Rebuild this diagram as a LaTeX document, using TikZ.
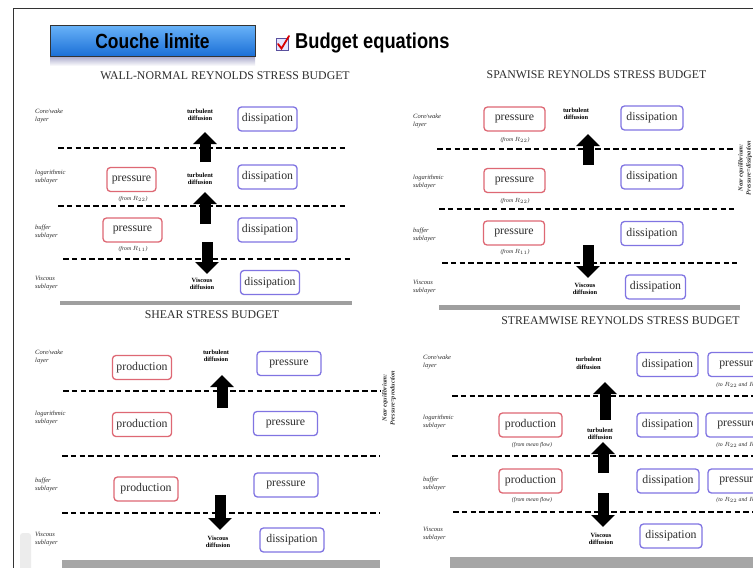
\documentclass[tikz,border=0pt]{standalone}
\usepackage{fontspec}
\setmainfont{Liberation Serif}
\newfontfamily\headsans[FakeStretch=0.85]{Liberation Sans}
\usetikzlibrary{arrows.meta}

\definecolor{srcred}{RGB}{222,104,116}
\definecolor{srcblue}{RGB}{128,116,226}
\definecolor{btntop}{RGB}{104,178,248}
\definecolor{btnbot}{RGB}{26,110,214}
\definecolor{inkgray}{RGB}{45,45,45}

\tikzset{
  budgetbox/.style={draw, rounded corners=3.5pt, line width=1.3pt, fill=white, text=inkgray,
    minimum width=59pt, minimum height=24pt, inner xsep=4pt, inner ysep=0pt,
    font=\fontsize{11.8}{12}\selectfont},
  gainbox/.style={budgetbox, draw=srcred},
  lossbox/.style={budgetbox, draw=srcblue},
  layerlabel/.style={anchor=west, align=left, inner sep=0pt, text=inkgray,
    font=\fontsize{6.5}{7.5}\selectfont\itshape},
  fluxlabel/.style={align=center, inner sep=0pt, font=\fontsize{6.4}{7.5}\selectfont\bfseries},
  sourcenote/.style={inner sep=0pt, text=inkgray, font=\fontsize{5.8}{6}\selectfont\itshape},
  paneltitle/.style={inner sep=0pt, text=inkgray, font=\fontsize{11.8}{12}\selectfont},
  layerline/.style={line width=2pt, dash pattern=on 5.5pt off 3.3pt},
  blockarrow/.style={line width=11pt, -{Triangle[width=23pt,length=12pt]}},
  neartext/.style={rotate=90, align=center, inner sep=0pt, text=inkgray,
    font=\fontsize{6.3}{8}\selectfont\bfseries\itshape},
}

\begin{document}
\begin{tikzpicture}[x=1pt, y=-1pt]
    \useasboundingbox (0,0) rectangle (753,568);
    \clip (0,0) rectangle (753,568);
    \fill[white] (0,0) rectangle (753,568);
    \draw[line width=0.9pt, black!80] (13,570) -- (13,8) -- (755,8);% slide frame

    % header
    \shade[top color=blue!25!gray!50, bottom color=white] (50,57) rectangle (255,66);
    \node[draw=black!80, line width=0.8pt, top color=btntop, bottom color=btnbot,
          minimum width=205pt, minimum height=31pt, inner sep=0pt,
          font=\headsans\bfseries\fontsize{20.5}{22}\selectfont] (CoucheBtn) at (152.5,41) {Couche limite};
    \node[draw=srcblue!70!black, fill=blue!10, line width=1pt, minimum size=12pt, inner sep=0pt] (CheckBox) at (282,44) {};
    \draw[red!85!black, line width=1.8pt, line cap=round] (278,44) -- (281.5,48.5) -- (289,36);% check mark
    \node[anchor=west, inner sep=0pt, font=\headsans\bfseries\fontsize{21.5}{24}\selectfont] (BudgetTitle) at (295,43) {Budget equations};

    % layer boundaries
    \foreach \ya/\xa/\xb in {148/58/347, 206/58/347, 259/63/350,
                             391/63/380, 456/62/380, 513/62/380,
                             149/437/733, 209/439/734, 263/442/737,
                             396/452/755, 456/452/755, 512/453/755}{
      \draw[layerline] (\xa,\ya) -- (\xb,\ya);
    }
    \draw[line width=4pt, gray!75] (60,303) -- (352,303);
    \draw[line width=5pt, gray!75] (439,307) -- (740,307);
    \fill[gray!70] (62,560) rectangle (380,570);
    \fill[gray!70] (450,557) rectangle (755,570);
    \fill[gray!15, rounded corners=3pt] (20,533) rectangle (31,572);

    %%% wall-normal budget
    \node[paneltitle] (TitleWN) at (225,76) {WALL-NORMAL REYNOLDS STRESS BUDGET};
    \node[layerlabel] (CoreWN) at (35,116) {Core/wake\\layer};
    \node[layerlabel] (LogWN)  at (35,177) {logarithmic\\sublayer};
    \node[layerlabel] (BufWN)  at (35,232) {buffer\\sublayer};
    \node[layerlabel] (VisWN)  at (35,283) {Viscous\\sublayer};
    \coordinate (WNupAbot) at (205,162);
    \coordinate (WNupAtop) at (205,132);
    \coordinate (WNupBbot) at (205,224);
    \coordinate (WNupBtop) at (205,192);
    \coordinate (WNdnTop)  at (207,242);
    \coordinate (WNdnBot)  at (207,274);
    \draw[blockarrow] (WNupAbot) -- (WNupAtop);
    \draw[blockarrow] (WNupBbot) -- (WNupBtop);
    \draw[blockarrow] (WNdnTop) -- (WNdnBot);
    \node[fluxlabel] (TurbWNa) at (200,115) {turbulent\\diffusion};
    \node[lossbox] (DissWNa) at (267.5,119) {dissipation};
    \node[gainbox, minimum width=49pt] (PresWNb) at (131.5,179.5) {pressure};
    \node[sourcenote] (FromWNb) at (133,199) {(from $R_{22}$)};
    \node[fluxlabel] (TurbWNb) at (200,179) {turbulent\\diffusion};
    \node[lossbox] (DissWNb) at (267.5,177) {dissipation};
    \node[gainbox] (PresWNc) at (132.5,230) {pressure};
    \node[sourcenote] (FromWNc) at (133,249) {(from $R_{11}$)};
    \node[lossbox] (DissWNc) at (267.5,230) {dissipation};
    \node[fluxlabel] (ViscWN) at (202,284) {Viscous\\diffusion};
    \node[lossbox] (DissWNd) at (270,282.5) {dissipation};

    %%% shear stress budget
    \node[paneltitle] (TitleSH) at (212,315) {SHEAR STRESS BUDGET};
    \node[layerlabel] (CoreSH) at (35,357) {Core/wake\\layer};
    \node[layerlabel] (LogSH)  at (35,418) {logarithmic\\sublayer};
    \node[layerlabel] (BufSH)  at (35,485) {buffer\\sublayer};
    \node[layerlabel] (VisSH)  at (35,539) {Viscous\\sublayer};
    \coordinate (SHupBot) at (222,408);
    \coordinate (SHupTop) at (222,375);
    \coordinate (SHdnTop) at (220,495);
    \coordinate (SHdnBot) at (220,530);
    \draw[blockarrow] (SHupBot) -- (SHupTop);
    \draw[blockarrow] (SHdnTop) -- (SHdnBot);
    \node[gainbox, minimum width=54pt] (ProdSHa) at (142,367.5) {production};
    \node[fluxlabel] (TurbSH) at (216,356) {turbulent\\diffusion};
    \node[lossbox, minimum width=64pt] (PresSHa) at (289,363.5) {pressure};
    \node[gainbox, minimum width=54pt] (ProdSHb) at (142,424.5) {production};
    \node[lossbox, minimum width=64pt] (PresSHb) at (285.5,423.5) {pressure};
    \node[gainbox, minimum width=64pt] (ProdSHc) at (146,489) {production};
    \node[lossbox, minimum width=64pt] (PresSHc) at (286,485) {pressure};
    \node[fluxlabel] (ViscSH) at (218,542) {Viscous\\diffusion};
    \node[lossbox, minimum width=64pt] (DissSHd) at (292,540) {dissipation};
    \node[neartext] (NearSH) at (389,398) {Near equilibrium:\\Pressure=production};

    %%% spanwise budget
    \node[paneltitle] (TitleSP) at (596.5,75) {SPANWISE REYNOLDS STRESS BUDGET};
    \node[layerlabel] (CoreSP) at (413,121) {Core/wake\\layer};
    \node[layerlabel] (LogSP)  at (413,182) {logarithmic\\sublayer};
    \node[layerlabel] (BufSP)  at (413,235) {buffer\\sublayer};
    \node[layerlabel] (VisSP)  at (413,287) {Viscous\\sublayer};
    \coordinate (SPupBot) at (588,165);
    \coordinate (SPupTop) at (588,134);
    \coordinate (SPdnTop) at (588,245);
    \coordinate (SPdnBot) at (588,278);
    \draw[blockarrow] (SPupBot) -- (SPupTop);
    \draw[blockarrow] (SPdnTop) -- (SPdnBot);
    \node[gainbox, minimum width=61pt] (PresSPa) at (514.5,119) {pressure};
    \node[sourcenote] (FromSPa) at (515,140) {(from $R_{22}$)};
    \node[fluxlabel] (TurbSP) at (576,114) {turbulent\\diffusion};
    \node[lossbox, minimum width=62pt] (DissSPa) at (652,118) {dissipation};
    \node[gainbox, minimum width=61pt] (PresSPb) at (514.5,180.5) {pressure};
    \node[sourcenote] (FromSPb) at (515,201) {(from $R_{22}$)};
    \node[lossbox, minimum width=62pt] (DissSPb) at (652,177) {dissipation};
    \node[gainbox, minimum width=61pt] (PresSPc) at (514,233) {pressure};
    \node[sourcenote] (FromSPc) at (515,252) {(from $R_{11}$)};
    \node[lossbox, minimum width=62pt] (DissSPc) at (652,233.5) {dissipation};
    \node[fluxlabel] (ViscSP) at (585,289) {Viscous\\diffusion};
    \node[lossbox, minimum width=60pt] (DissSPd) at (655.5,287) {dissipation};
    \node[neartext] (NearSP) at (745,168) {Near equilibrium:\\Pressure=dissipation};

    %%% streamwise budget
    \node[paneltitle] (TitleST) at (620.5,321) {STREAMWISE REYNOLDS STRESS BUDGET};
    \node[layerlabel] (CoreST) at (423,362) {Core/wake\\layer};
    \node[layerlabel] (LogST)  at (423,422) {logarithmic\\sublayer};
    \node[layerlabel] (BufST)  at (423,484) {buffer\\sublayer};
    \node[layerlabel] (VisST)  at (423,534) {Viscous\\sublayer};
    \coordinate (STupAbot) at (605,420);
    \coordinate (STupAtop) at (605,382);
    \coordinate (STupBbot) at (603,473);
    \coordinate (STupBtop) at (603,442);
    \coordinate (STdnTop)  at (603,493);
    \coordinate (STdnBot)  at (603,527);
    \draw[blockarrow] (STupAbot) -- (STupAtop);
    \draw[blockarrow] (STupBbot) -- (STupBtop);
    \draw[blockarrow] (STdnTop) -- (STdnBot);
    \node[fluxlabel] (TurbSTa) at (588.5,363.5) {turbulent\\diffusion};
    \node[lossbox, minimum width=61pt] (DissSTa) at (667.5,364.5) {dissipation};
    \node[lossbox, minimum width=62pt] (PresSTa) at (739,364.5) {pressure};
    \node[sourcenote] (ToSTa) at (740,385) {(to $R_{22}$ and $R_{33}$)};
    \node[gainbox, minimum width=63pt] (ProdSTb) at (530.5,425) {production};
    \node[sourcenote] (FromSTb) at (532,445) {(from mean flow)};
    \node[fluxlabel] (TurbSTb) at (600,434) {turbulent\\diffusion};
    \node[lossbox, minimum width=61pt] (DissSTb) at (667.5,425) {dissipation};
    \node[lossbox, minimum width=62pt] (PresSTb) at (737,425) {pressure};
    \node[sourcenote] (ToSTb) at (740,445) {(to $R_{22}$ and $R_{33}$)};
    \node[gainbox, minimum width=63pt] (ProdSTc) at (530.5,481) {production};
    \node[sourcenote] (FromSTc) at (532,500) {(from mean flow)};
    \node[lossbox, minimum width=62pt] (DissSTc) at (668,481) {dissipation};
    \node[lossbox, minimum width=62pt] (PresSTc) at (739,481) {pressure};
    \node[sourcenote] (ToSTc) at (740,500) {(to $R_{22}$ and $R_{33}$)};
    \node[fluxlabel] (ViscST) at (601,539) {Viscous\\diffusion};
    \node[lossbox, minimum width=62pt] (DissSTd) at (671,536) {dissipation};
\end{tikzpicture}
\end{document}
